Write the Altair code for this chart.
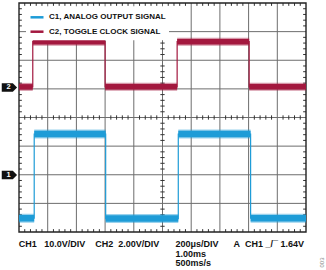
import altair as alt
import numpy as np
import pandas as pd

# ---- values (units: screen divisions, x 0..10, y -4..4) ----
CHANNELS = ["C1, ANALOG OUTPUT SIGNAL", "C2, TOGGLE CLOCK SIGNAL"]
COLORS = ["#1E9CD7", "#A3183F"]

C1_START = [0.00, 0.53, 3.02, 5.55, 8.07]
C1_END = [0.53, 3.02, 5.55, 8.07, 10.00]
C1_LEVEL = [-3.52, -0.58, -3.53, -0.58, -3.52]

C2_START = [0.00, 0.48, 3.00, 5.51, 8.02]
C2_END = [0.48, 3.00, 5.51, 8.02, 10.00]
C2_LEVEL = [1.07, 2.65, 1.07, 2.65, 1.07]

MARKER_LABELS = ["1", "2"]
MARKER_LEVELS = [-2.01, 1.05]

NB = "\u00a0"
BOTTOM_LEFT = f"CH1{NB*3}10.0V/DIV{NB*4}CH2{NB*2}2.00V/DIV"
BOTTOM_RIGHT = f"200μs/DIV{NB*6}A{NB*2}CH1{NB}_/¯{NB}1.64V\n1.00ms\n500ms/s"
FIG_ID = "003"

FONT = "Liberation Sans"
W, H = 287, 229

sx = alt.Scale(domain=[0, 10], nice=False, zero=False)
sy = alt.Scale(domain=[-4, 4], nice=False, zero=False)
color_scale = alt.Scale(domain=CHANNELS, range=COLORS)

# ---- tables ----
seg_rows, trace_rows = [], []
for ch, starts, ends, levels in [
    (CHANNELS[0], C1_START, C1_END, C1_LEVEL),
    (CHANNELS[1], C2_START, C2_END, C2_LEVEL),
]:
    k = 0
    for s, e, l in zip(starts, ends, levels):
        seg_rows.append({"channel": ch, "start": s, "end": e, "level": l})
        trace_rows.append({"channel": ch, "t": s, "v": l, "k": k}); k += 1
        trace_rows.append({"channel": ch, "t": e, "v": l, "k": k}); k += 1
seg_df = pd.DataFrame(seg_rows)
trace_df = pd.DataFrame(trace_rows)

vgrid = pd.DataFrame({"x": np.arange(1, 10)})
hgrid = pd.DataFrame({"y": np.arange(-3, 4)})

minor_x = [v for v in np.round(np.arange(0.2, 10, 0.2), 2) if abs(v - round(v)) > 1e-6]
minor_y = [v for v in np.round(np.arange(-3.8, 4, 0.2), 2) if abs(v - round(v)) > 1e-6]
tick_rows = []
for v in minor_x:
    tick_rows += [
        {"x": v, "x2": v, "y": 4, "y2": 3.9},
        {"x": v, "x2": v, "y": -4, "y2": -3.9},
        {"x": v, "x2": v, "y": -0.075, "y2": 0.075},
    ]
for v in minor_y:
    tick_rows += [
        {"x": 0, "x2": 0.1, "y": v, "y2": v},
        {"x": 10, "x2": 9.9, "y": v, "y2": v},
        {"x": 4.925, "x2": 5.075, "y": v, "y2": v},
    ]
ticks_df = pd.DataFrame(tick_rows)
one = pd.DataFrame({"a": [0]})

# ---- layers ----
grid_v = alt.Chart(vgrid).mark_rule(color="#6d6d6d", strokeWidth=1).encode(
    x=alt.X("x:Q", scale=sx, axis=None), y=alt.datum(-4, scale=sy) if False else alt.value(0), y2=alt.value(H)
)
grid_h = alt.Chart(hgrid).mark_rule(color="#6d6d6d", strokeWidth=1).encode(
    y=alt.Y("y:Q", scale=sy, axis=None), x=alt.value(0), x2=alt.value(W)
)
ticks = alt.Chart(ticks_df).mark_rule(color="#333333", strokeWidth=1).encode(
    x=alt.X("x:Q", scale=sx, axis=None), x2="x2:Q",
    y=alt.Y("y:Q", scale=sy, axis=None), y2="y2:Q",
)
border = alt.Chart(one).mark_rect(fillOpacity=0, stroke="#222222", strokeWidth=1.4).encode(
    x=alt.value(0), x2=alt.value(W), y=alt.value(0), y2=alt.value(H)
)


def band(ch, width, opacity):
    return alt.Chart(seg_df[seg_df.channel == ch]).mark_rule(
        strokeWidth=width, opacity=opacity, strokeCap="butt"
    ).encode(
        x=alt.X("start:Q", scale=sx, axis=None), x2="end:Q",
        y=alt.Y("level:Q", scale=sy, axis=None),
        color=alt.Color("channel:N", scale=color_scale, title=None),
    )


trace = alt.Chart(trace_df).mark_line(strokeWidth=1.2, interpolate="linear").encode(
    x=alt.X("t:Q", scale=sx, axis=None),
    y=alt.Y("v:Q", scale=sy, axis=None),
    detail="channel:N",
    order="k:Q",
    color=alt.Color("channel:N", scale=color_scale, title=None),
)

marker_df = pd.DataFrame({"label": MARKER_LABELS, "level": MARKER_LEVELS})
marker_shape = "M-1,-0.55L0.45,-0.55L1,0L0.45,0.55L-1,0.55Z"
markers = alt.Chart(marker_df).mark_point(
    shape=marker_shape, filled=True, size=234, color="#111111", opacity=1
).encode(x=alt.value(-9.6), y=alt.Y("level:Q", scale=sy, axis=None))
marker_text = alt.Chart(marker_df).mark_text(
    color="white", font=FONT, fontWeight="bold", fontSize=7.5, baseline="middle", align="center"
).encode(x=alt.value(-10.4), y=alt.Y("level:Q", scale=sy, axis=None), text="label:N")

txt_left = alt.Chart(one).mark_text(
    text=BOTTOM_LEFT, font=FONT, fontWeight="bold", fontSize=9, align="left", baseline="alphabetic", color="#111111"
).encode(x=alt.value(-0.3), y=alt.value(244.3))
txt_right = alt.Chart(one).mark_text(
    text=BOTTOM_RIGHT, lineBreak="\n", lineHeight=9.4, font=FONT, fontWeight="bold", fontSize=9,
    align="left", baseline="alphabetic", color="#111111"
).encode(x=alt.value(156.5), y=alt.value(244.3))
txt_id = alt.Chart(one).mark_text(
    text=FIG_ID, font=FONT, fontSize=6, angle=270, align="center", baseline="middle", color="#8a8a8a"
).encode(x=alt.value(302.8), y=alt.value(259.5))

chart = alt.layer(
    grid_v, grid_h, ticks, border,
    band(CHANNELS[0], 9.0, 0.45), band(CHANNELS[0], 6.5, 1.0),
    band(CHANNELS[1], 8.0, 0.45), band(CHANNELS[1], 5.5, 1.0),
    trace, markers, marker_text, txt_left, txt_right, txt_id,
).properties(
    width=W, height=H,
    padding={"left": 19, "top": 3, "right": 20, "bottom": 38},
    autosize=alt.AutoSizeParams(type="none"),
    background="white",
).configure_view(strokeWidth=0).configure_legend(
    orient="none", legendX=7, legendY=3.3, fillColor="white", padding=3,
    labelFont=FONT, labelFontSize=8, labelFontWeight="bold", labelColor="#111111",
    symbolType="stroke", symbolSize=169, symbolStrokeWidth=2.5, symbolOpacity=1,
    labelOffset=4, rowPadding=1.4, labelLimit=300,
)

chart.save("out.html", embed_options={"renderer": "svg", "actions": False})
